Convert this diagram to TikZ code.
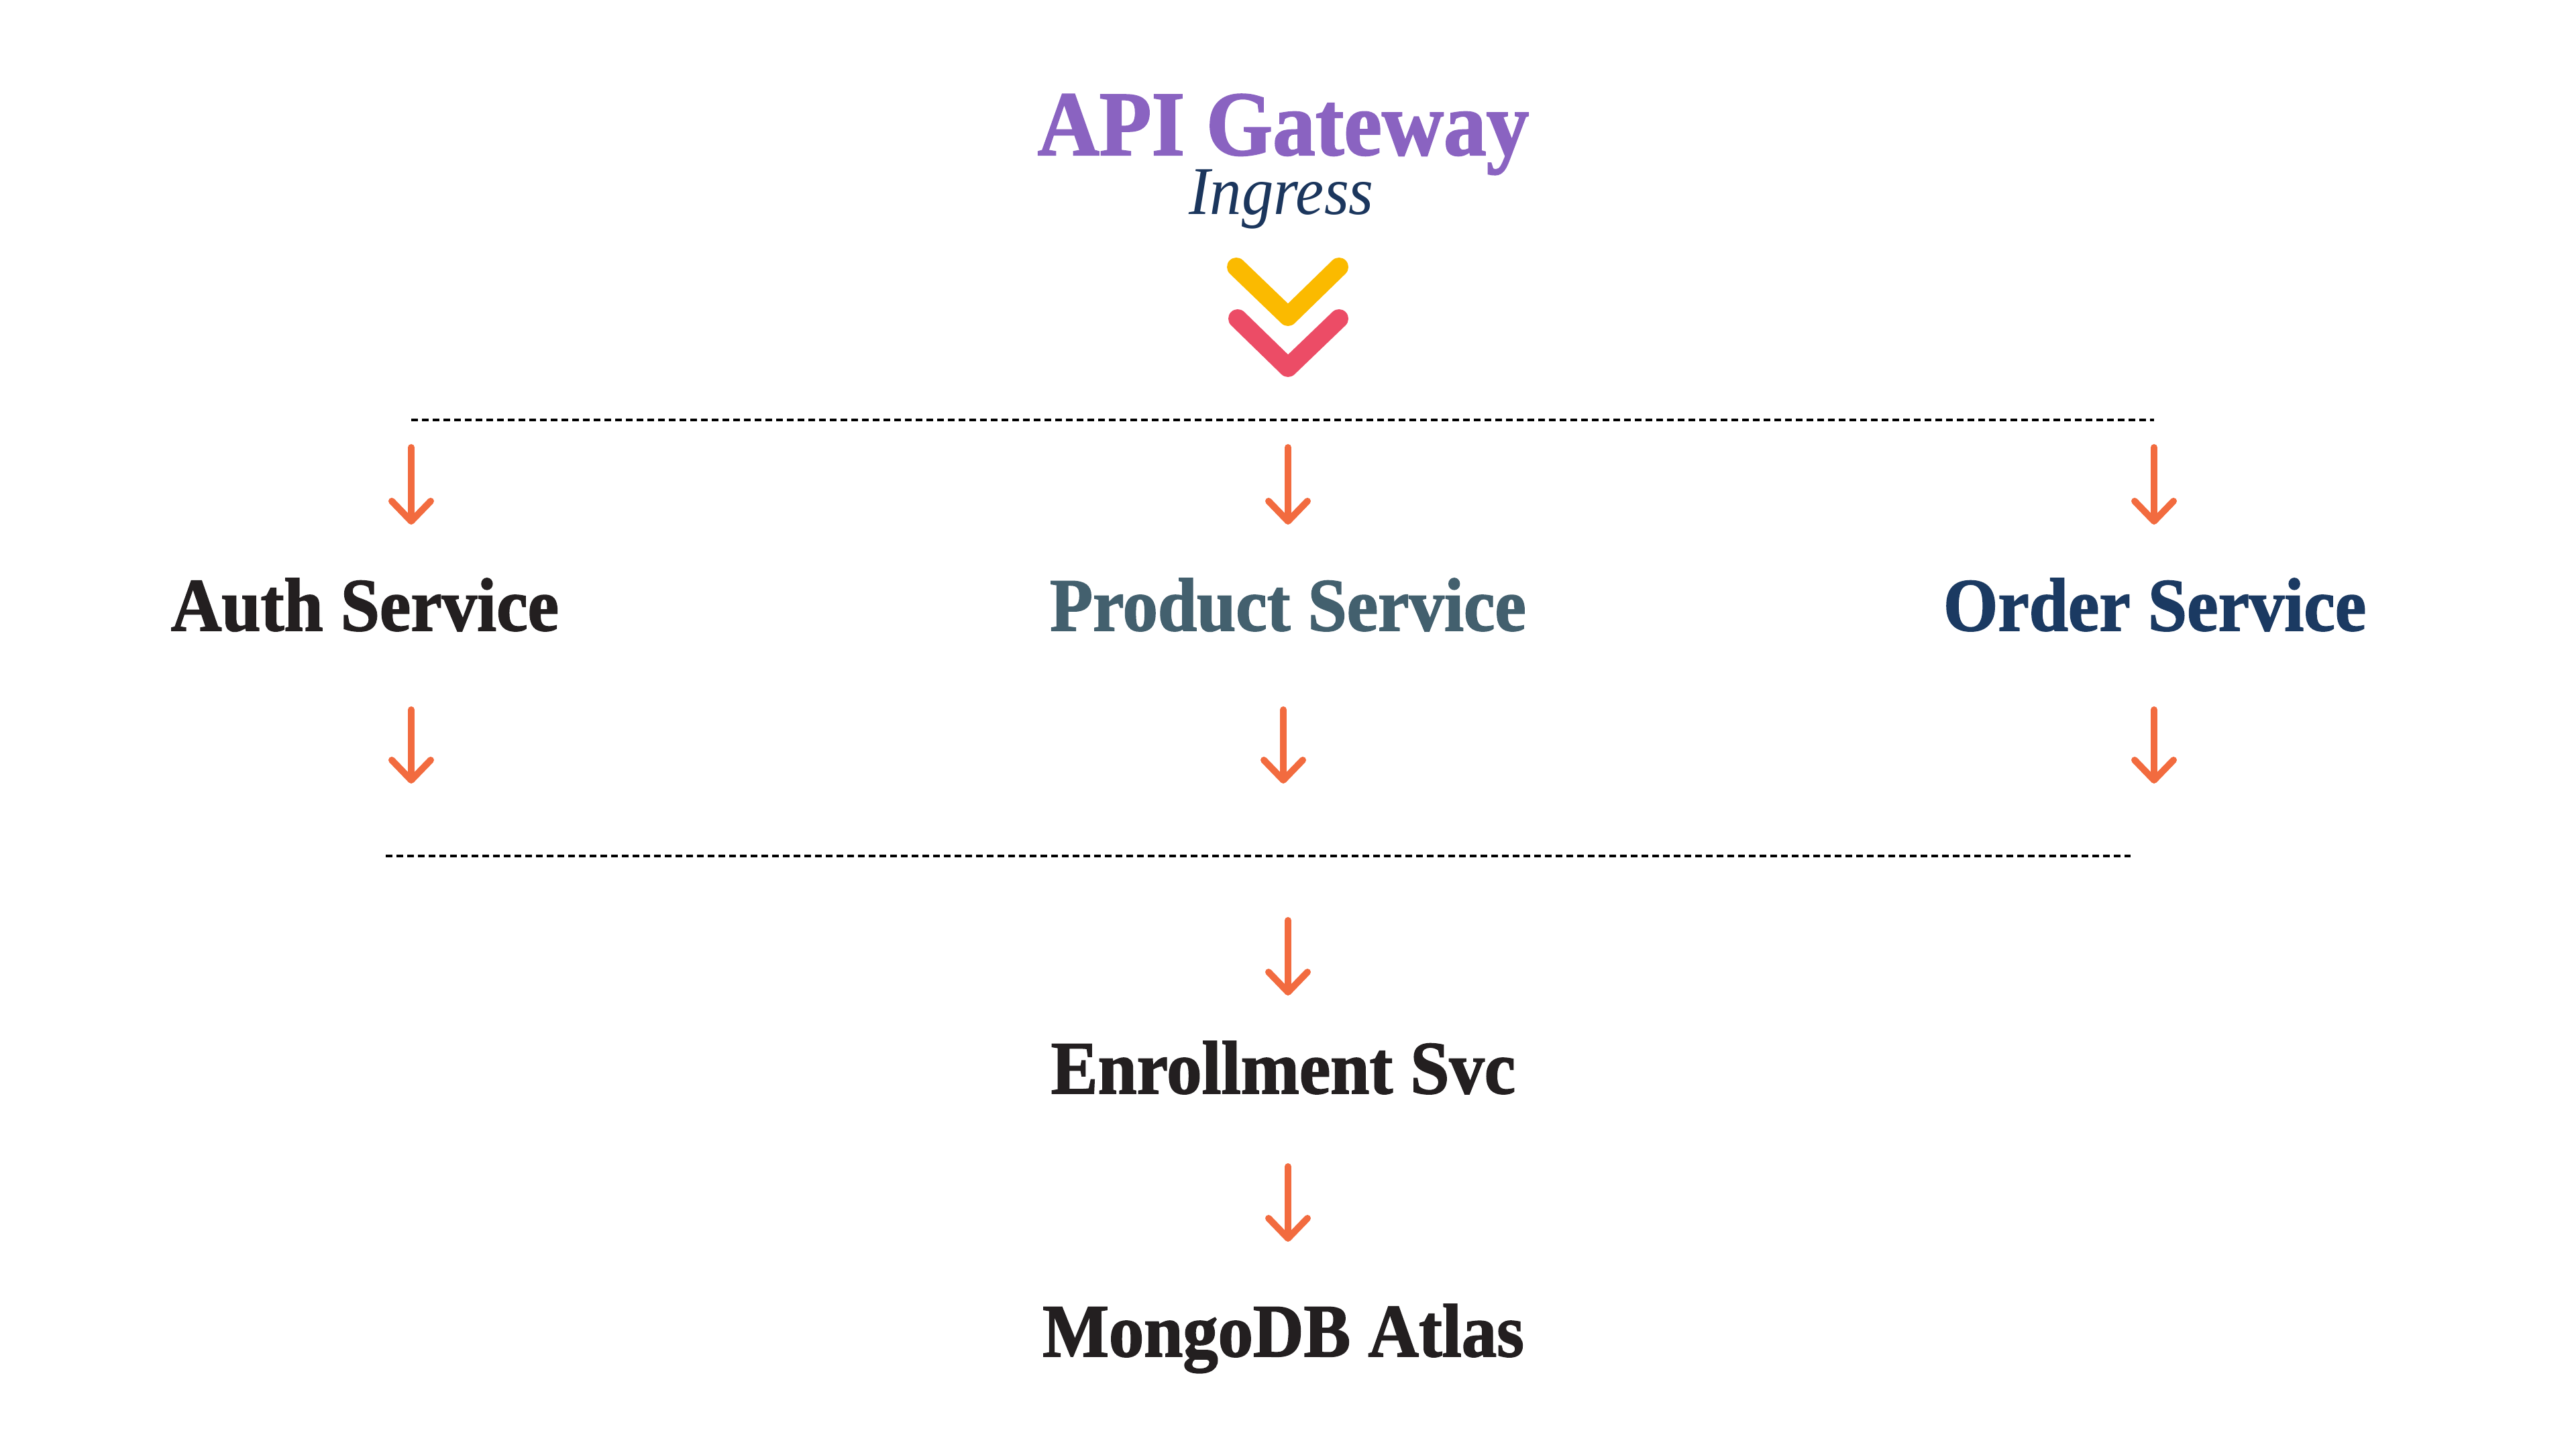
\documentclass[tikz,border=0pt]{standalone}
\usepackage{fontspec}
\setmainfont{Liberation Serif}
\newfontfamily\dispfont[FakeStretch=0.93, BoldFeatures={FakeBold=1.5}]{Liberation Serif}
\usepackage{tikz}
\usetikzlibrary{arrows.meta}

\definecolor{gwpurple}{HTML}{8A63C1}
\definecolor{ingnavy}{HTML}{1B365D}
\definecolor{prodslate}{HTML}{43606E}
\definecolor{ordnavy}{HTML}{1B3A62}
\definecolor{inkblack}{HTML}{231F20}
\definecolor{flowor}{HTML}{F26B3F}
\definecolor{chevyel}{HTML}{FBBA00}
\definecolor{chevred}{HTML}{EC4C66}

\tikzset{
  svctext/.style={inner sep=0, anchor=base, font=\dispfont\bfseries\fontsize{32}{36}\selectfont},
  flow/.style={draw=flowor, line width=0.1cm, line cap=round,
    -{Straight Barb[length=0.3cm, width=0.58cm, round]}},
  divider/.style={draw=black, line width=0.04cm, dash pattern=on 0.1cm off 0.06cm},
  chevron/.style={line width=0.28cm, line cap=round, line join=round}
}

\begin{document}
\begin{tikzpicture}

\useasboundingbox (0,0) rectangle (38.4,-21.6);

% gateway title
\node[inner sep=0, anchor=base, text=gwpurple, font=\dispfont\bfseries\fontsize{39}{44}\selectfont]
  (gateway) at (19.13,-2.31) {API Gateway};
\node[inner sep=0, anchor=base, text=ingnavy, font=\dispfont\itshape\fontsize{29}{34}\selectfont]
  (ingress) at (19.10,-3.20) {Ingress};

% double chevron
\draw[chevron, chevyel] (18.43,-3.98) -- (19.20,-4.72) -- (19.96,-3.98);
\draw[chevron, chevred] (18.45,-4.75) -- (19.20,-5.48) -- (19.96,-4.75);

% upper divider
\coordinate (d1w) at (6.13,-6.26);
\coordinate (d1e) at (32.11,-6.26);
\draw[divider] (d1w) -- (d1e);

% services
\node[svctext, text=inkblack] (auth) at (5.44,-9.40) {Auth Service};
\node[svctext, text=prodslate] (product) at (19.20,-9.40) {Product Service};
\node[svctext, text=ordnavy] (order) at (32.12,-9.40) {Order Service};

% arrows into services
\coordinate (a1s) at (6.13,-6.67);  \coordinate (a1e) at (6.13,-7.82);
\coordinate (p1s) at (19.20,-6.67); \coordinate (p1e) at (19.20,-7.82);
\coordinate (o1s) at (32.11,-6.67); \coordinate (o1e) at (32.11,-7.82);
\draw[flow] (a1s) -- (a1e);
\draw[flow] (p1s) -- (p1e);
\draw[flow] (o1s) -- (o1e);

% arrows out of services
\coordinate (a2s) at (6.13,-10.58);  \coordinate (a2e) at (6.13,-11.68);
\coordinate (p2s) at (19.13,-10.58); \coordinate (p2e) at (19.13,-11.68);
\coordinate (o2s) at (32.11,-10.58); \coordinate (o2e) at (32.11,-11.68);
\draw[flow] (a2s) -- (a2e);
\draw[flow] (p2s) -- (p2e);
\draw[flow] (o2s) -- (o2e);

% lower divider
\coordinate (d2w) at (5.75,-12.76);
\coordinate (d2e) at (31.76,-12.76);
\draw[divider] (d2w) -- (d2e);

% enrollment and database
\node[svctext, text=inkblack] (enroll) at (19.13,-16.30) {Enrollment Svc};
\node[svctext, text=inkblack] (mongo) at (19.13,-20.22) {MongoDB Atlas};

\coordinate (e1s) at (19.20,-13.72); \coordinate (e1e) at (19.20,-14.84);
\coordinate (m1s) at (19.20,-17.39); \coordinate (m1e) at (19.20,-18.51);
\draw[flow] (e1s) -- (e1e);
\draw[flow] (m1s) -- (m1e);

\end{tikzpicture}
\end{document}
